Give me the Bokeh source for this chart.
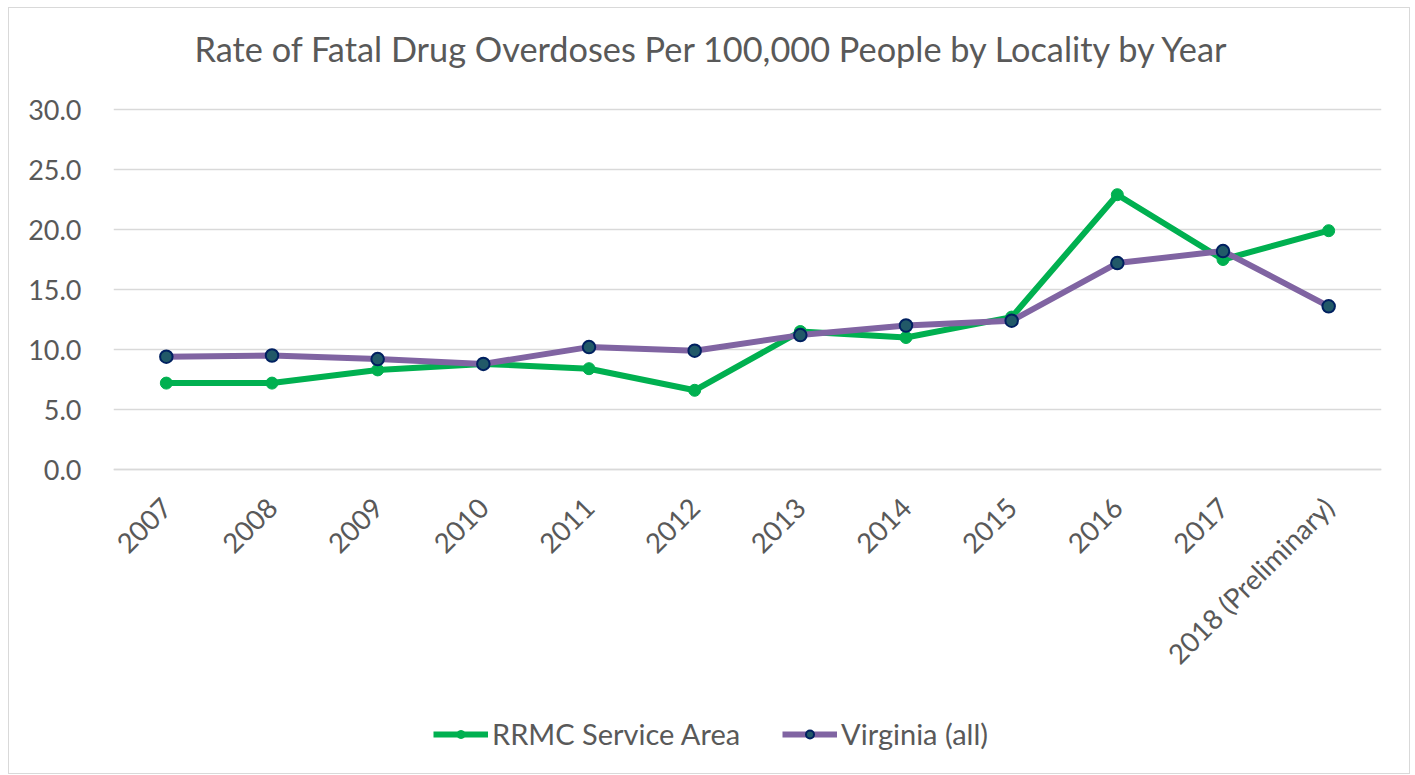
import math
from bokeh.plotting import figure
from bokeh.models import (FactorRange, Range1d, FixedTicker, NumeralTickFormatter,
                          Legend, LegendItem, Label)
from bokeh.embed import file_html
from bokeh.resources import INLINE

years = ["2007", "2008", "2009", "2010", "2011", "2012", "2013", "2014",
         "2015", "2016", "2017", "2018 (Preliminary)"]
rrmc = [7.2, 7.2, 8.3, 8.8, 8.4, 6.6, 11.5, 11.0, 12.7, 22.9, 17.5, 19.9]
virginia = [9.4, 9.5, 9.2, 8.8, 10.2, 9.9, 11.2, 12.0, 12.4, 17.2, 18.2, 13.6]
y_ticks = [0, 5, 10, 15, 20, 25, 30]
title_text = "Rate of Fatal Drug Overdoses Per 100,000 People by Locality by Year"

FONT = "Lato"
TXT = "#595959"
GRID = "#d9d9d9"

PX_PER_UNIT = 12.0
FRAME_H = 764
ZERO_FROM_TOP = 460
y_top = ZERO_FROM_TOP / PX_PER_UNIT
y_bottom = -(FRAME_H - ZERO_FROM_TOP) / PX_PER_UNIT

p = figure(frame_width=1268, frame_height=FRAME_H,
           x_range=FactorRange(*years, range_padding=0),
           y_range=Range1d(y_bottom, y_top), output_backend="svg", toolbar_location=None,
           min_border_left=104, min_border_right=28, min_border_top=1,
           min_border_bottom=0)
p.margin = (7, 0, 0, 8)
p.styles = {"border": "1px solid #d9d9d9"}
p.outline_line_color = None
p.background_fill_color = "white"
p.border_fill_color = "white"

p.add_layout(Label(x=81, y=FRAME_H - 39, x_units="screen", y_units="screen",
                   text=title_text, text_font=FONT, text_font_size="34.3px",
                   text_color=TXT, text_align="left", text_baseline="middle"))

p.xgrid.grid_line_color = None
p.ygrid.grid_line_color = GRID
p.ygrid.grid_line_width = 1.5

p.yaxis.ticker = FixedTicker(ticks=y_ticks)
p.yaxis.formatter = NumeralTickFormatter(format="0.0")
p.yaxis.axis_line_color = None
p.yaxis.major_tick_line_color = None
p.yaxis.minor_tick_line_color = None
p.yaxis.major_label_text_font = FONT
p.yaxis.major_label_text_font_size = "27px"
p.yaxis.major_label_text_color = TXT
p.yaxis.major_label_standoff = 26

p.xaxis.fixed_location = 0
p.xaxis.axis_line_color = GRID
p.xaxis.axis_line_width = 1.5
p.xaxis.major_tick_line_color = None
p.xaxis.minor_tick_line_color = None
p.xaxis.major_label_orientation = math.pi / 4
p.xaxis.major_label_text_font = FONT
p.xaxis.major_label_text_font_size = "27.5px"
p.xaxis.major_label_text_color = TXT
p.xaxis.major_label_standoff = 27

g_line = p.line(years, rrmc, line_color="#00b050", line_width=6, line_join="round")
g_pts = p.scatter(years, rrmc, size=12, fill_color="#00b050", line_color="#00b050")
v_line = p.line(years, virginia, line_color="#8064a2", line_width=6, line_join="round")
v_pts = p.scatter(years, virginia, size=12.5, fill_color="#215968", line_color="#002060",
                  line_width=2)

legend = Legend(items=[LegendItem(label="RRMC Service Area", renderers=[g_line, g_pts]),
                       LegendItem(label="Virginia (all)", renderers=[v_line, v_pts])],
                orientation="horizontal", location=(320, 22),
                label_text_font=FONT, label_text_font_size="29px", label_text_color=TXT,
                glyph_width=55, glyph_height=20, label_standoff=4, spacing=42,
                border_line_color=None, background_fill_alpha=0, margin=0, padding=0)
p.add_layout(legend, "center")

open("out.html", "w").write(file_html(p, INLINE))
